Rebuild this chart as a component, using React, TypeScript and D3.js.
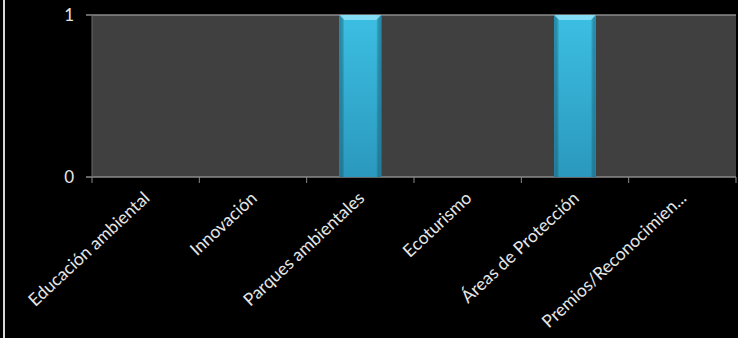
import React from "react";
import * as d3 from "d3";

const categories = [
  "Educación ambiental",
  "Innovación",
  "Parques ambientales",
  "Ecoturismo",
  "Áreas de Protección",
  "Premios/Reconocimien...",
];
const values = [0, 0, 1, 0, 1, 0];
const yTicks = [0, 1];

const W = 738;
const H = 338;
const M = { left: 92, right: 2, top: 15, bottom: 161 };

export default function App() {
  const x = d3
    .scaleBand<string>()
    .domain(categories)
    .range([M.left, W - M.right])
    .paddingInner(0)
    .paddingOuter(0);
  const y = d3.scaleLinear().domain([0, 1]).range([H - M.bottom, M.top]);
  const bw = x.bandwidth() * 0.39;
  const font = "Lato, 'Open Sans', sans-serif";
  const y0 = y(0);

  return (
    <div style={{ position: "fixed", left: 0, top: 0, width: W, height: H }}>
      <svg width={W} height={H} style={{ display: "block", background: "#000" }}>
        <defs>
          <linearGradient id="barg" x1="0" y1="0" x2="0" y2="1">
            <stop offset="0" stopColor="#3cbfe3" />
            <stop offset="1" stopColor="#2b98bd" />
          </linearGradient>
          <linearGradient id="barh" x1="0" y1="0" x2="1" y2="0">
            <stop offset="0" stopColor="#1f7fa0" stopOpacity="0.7" />
            <stop offset="0.12" stopColor="#000" stopOpacity="0" />
            <stop offset="0.88" stopColor="#000" stopOpacity="0" />
            <stop offset="1" stopColor="#1f7fa0" stopOpacity="0.7" />
          </linearGradient>
        </defs>
        <rect x={0} y={0} width={W} height={H} fill="#000" />
        <rect x={3} y={0} width={2} height={H} fill="#d8d8d8" />
        <rect
          x={M.left}
          y={M.top}
          width={W - M.right - M.left}
          height={y0 - M.top}
          fill="#404040"
        />
        {yTicks.map((t) => (
          <g key={t}>
            <line
              x1={M.left - 6}
              x2={W - M.right}
              y1={y(t)}
              y2={y(t)}
              stroke="#8a8a8a"
              strokeWidth={1.5}
            />
            <text
              x={74}
              y={y(t)}
              dy="0.36em"
              textAnchor="end"
              fill="#e6e6e6"
              fontFamily={font}
              fontSize={17}
            >
              {t}
            </text>
          </g>
        ))}
        <line
          x1={M.left}
          x2={M.left}
          y1={M.top}
          y2={y0}
          stroke="#6a6a6a"
          strokeWidth={1}
        />
        {categories.map((c, i) => {
          const bx = (x(c) as number) + (x.bandwidth() - bw) / 2;
          const by = y(values[i]);
          const h = y0 - by;
          return (
            <g key={c}>
              {values[i] > 0 && (
                <g>
                  <rect x={bx} y={by} width={bw} height={h} fill="url(#barg)" />
                  <rect x={bx} y={by} width={bw} height={h} fill="url(#barh)" />
                  <path
                    d={`M${bx},${by}L${bx + bw},${by}L${bx + bw - 5},${by + 5}L${bx + 5},${by + 5}Z`}
                    fill="#8fe3f8"
                    opacity={0.85}
                  />
                </g>
              )}
            </g>
          );
        })}
        {d3.range(categories.length + 1).map((i) => {
          const tx = M.left + i * x.step();
          return (
            <line
              key={i}
              x1={tx}
              x2={tx}
              y1={y0}
              y2={y0 + 6}
              stroke="#8a8a8a"
              strokeWidth={1}
            />
          );
        })}
        {categories.map((c) => {
          const cx = (x(c) as number) + x.bandwidth() / 2 + 1;
          const cy = y0 + 18;
          return (
            <text
              key={c}
              transform={`translate(${cx},${cy}) rotate(-43)`}
              textAnchor="end"
              dy="0.35em"
              fill="#e6e6e6"
              fontFamily={font}
              fontSize={17.5}
            >
              {c}
            </text>
          );
        })}
      </svg>
    </div>
  );
}
